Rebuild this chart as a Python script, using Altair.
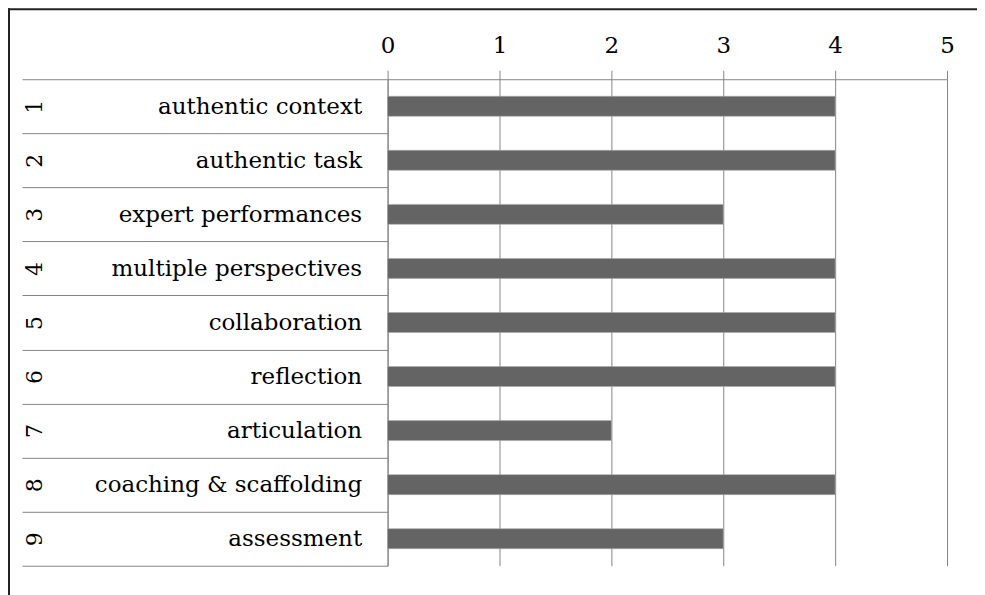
import altair as alt
import pandas as pd

nums = ["1", "2", "3", "4", "5", "6", "7", "8", "9"]
names = [
    "authentic context",
    "authentic task",
    "expert performances",
    "multiple perspectives",
    "collaboration",
    "reflection",
    "articulation",
    "coaching & scaffolding",
    "assessment",
]
values = [4, 4, 3, 4, 4, 4, 2, 4, 3]
x_ticks = [0, 1, 2, 3, 4, 5]

df = pd.DataFrame({"num": nums, "name": names, "value": values})

FONT = "DejaVu Serif"
FS = 23
GRID = "#858585"

bars = alt.Chart(df).mark_bar(color="#646464", stroke="#aaaaaa", strokeWidth=0.6, size=20).encode(
    x=alt.X(
        "value:Q",
        scale=alt.Scale(domain=[0, 5], nice=False),
        axis=alt.Axis(
            orient="top", values=x_ticks, format="d", grid=True, gridColor=GRID,
            domainColor=GRID, tickColor=GRID, tickSize=9, labelPadding=13,
            labelFont=FONT, labelFontSize=FS, labelColor="black", title=None,
            labelFlush=False,
        ),
    ),
    y=alt.Y(
        "name:N", sort=names,
        scale=alt.Scale(paddingInner=0, paddingOuter=0),
        axis=alt.Axis(
            orient="left", title=None, ticks=True, tickBand="extent", tickSize=366,
            tickColor=GRID, domainColor=GRID, labelPadding=26 - 366,
            labelFont=FONT, labelFontSize=FS, labelColor="black", labelLimit=400,
        ),
    ),
)

numbers = alt.Chart(df).mark_text(text="").encode(
    y=alt.Y(
        "num:N", sort=nums,
        scale=alt.Scale(paddingInner=0, paddingOuter=0),
        axis=alt.Axis(
            orient="left", title=None, ticks=False, domain=False, offset=353,
            labelPadding=0, labelAngle=270, labelAlign="center", labelBaseline="middle",
            labelFont=FONT, labelFontSize=FS - 1, labelColor="black",
        ),
    ),
)

frame_df = pd.DataFrame({"k": [0]})
left_border = alt.Chart(frame_df).mark_rule(color="#222222", strokeWidth=2).encode(
    x=alt.value(-379), y=alt.value(-71), y2=alt.value(560)
)
top_border = alt.Chart(frame_df).mark_rule(color="#222222", strokeWidth=2).encode(
    x=alt.value(-380), x2=alt.value(600), y=alt.value(-70)
)

chart = (
    alt.layer(bars, numbers, left_border, top_border)
    .resolve_scale(y="independent")
    .properties(
        width=560, height=487,
        padding={"left": 380, "top": 71, "right": 30, "bottom": 30},
        autosize=alt.AutoSizeParams(type="none"),
        background="white",
    )
    .configure_view(stroke=None)
)

chart.save("out.html", embed_options={"renderer": "svg", "actions": False})
